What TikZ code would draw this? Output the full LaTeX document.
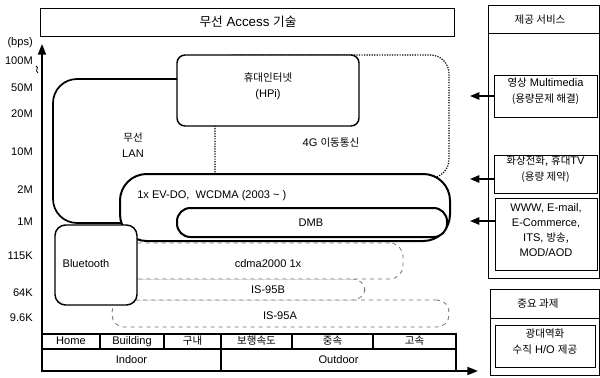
\documentclass[tikz,border=0pt]{standalone}
\usepackage{fontspec}
\setmainfont{Liberation Sans}
\newfontfamily\kr{Noto Sans CJK KR}[Scale=0.95]
\usetikzlibrary{arrows.meta,fit}
\begin{document}
\begin{tikzpicture}[x=0.75pt,y=-0.75pt,
  every node/.style={inner sep=0pt, font=\fontsize{8.3}{12}\selectfont, align=center},
  frame/.style={draw, line width=0.6pt},
  svcbox/.style={draw, line width=0.7pt},
  cell/.style={draw, line width=0.8pt},
  celltxt/.style={text height=6pt, text depth=1.5pt},
  bold/.style={draw, line width=1.1pt},
  heavy/.style={draw, line width=1.5pt},
  faint/.style={draw=black!55, line width=0.6pt, dashed},
  dotline/.style={draw, line width=0.9pt, densely dotted},
  arr/.style={-{Triangle[length=7pt,width=5.5pt]}, line width=1.2pt},
  axis/.style={-{Triangle[length=8pt,width=6pt]}, line width=1.3pt}]
\useasboundingbox (0,0) rectangle (600,378);

% top header
\node[frame, fit={(40,8)(454,36)}] (hdr) {};
\node[font=\fontsize{10}{12}\selectfont] (hdrtxt) at (248,22) {{\kr 무선} Access {\kr 기술}};

% axes
\coordinate (o) at (42,371);
\coordinate (ytop) at (42,44);
\coordinate (xend) at (478,371);
\draw[axis] (o) -- (ytop);
\draw[axis] (o) -- (xend);
\draw[line width=0.6pt] (36,66) .. controls (40,68) and (34,70) .. (38,73);

% axis labels
\node[anchor=east] (l0) at (33,43) {(bps)};
\node[anchor=east] (l1) at (33,61) {100M};
\node[anchor=east] (l2) at (33,88) {50M};
\node[anchor=east] (l3) at (33,114) {20M};
\node[anchor=east] (l4) at (33,152) {10M};
\node[anchor=east] (l5) at (33,190) {2M};
\node[anchor=east] (l6) at (33,222) {1M};
\node[anchor=east] (l7) at (33,256) {115K};
\node[anchor=east] (l8) at (33,293) {64K};
\node[anchor=east] (l9) at (33,318) {9.6K};

% wireless LAN (background)
\draw[line width=1.3pt, rounded corners=18pt] (177,79) -- (53,79) -- (53,223) -- (126,223);
\node (lan) at (133,145) {{\kr 무선}\\LAN};

% 4G dotted region
\draw[dotline, rounded corners=14pt] (215,180) -- (215,55) -- (449,55) -- (449,178) -- (400,178);
\node (g4) at (331,143) {4G {\kr 이동통신}};

% HPi
\node[bold, fill=white, rounded corners=6pt, fit={(177,55)(359,126)}] (hpi) {{\kr 휴대인터넷}\\(HPi)};

% EV-DO
\node[heavy, fill=white, rounded corners=20pt, fit={(120,174)(450,241)}] (evdo) {};
\node[anchor=west] (evdotxt) at (137,196) {1x EV-DO,\ \ WCDMA (2003 \textasciitilde\ )};

% DMB
\node[heavy, fill=white, rounded corners=10pt, fit={(177,208)(447,237)}] (dmb) {};
\node (dmbtxt) at (311,223) {DMB};

% lower technologies
\node[faint, rounded corners=9pt, fit={(112,300)(449,327)}] (is95a) {};
\node (is95atxt) at (280,316) {IS-95A};
\node[faint, fill=white, rounded corners=9pt, fit={(100,279)(365,300)}] (is95b) {};
\node (is95btxt) at (268,290) {IS-95B};
\node[faint, fill=white, rounded corners=10pt, fit={(100,243)(403,279)}] (cdma) {};
\node (cdmatxt) at (268,264) {cdma2000 1x};

% Bluetooth
\node[bold, fill=white, rounded corners=8pt, fit={(55,225)(137,305)}] (bt) {};
\node (bttxt) at (86,264) {Bluetooth};

% table
\node[cell, fit={(42,334)(100,349)}] (c1) {};
\node[cell, fit={(100,334)(164,349)}] (c2) {};
\node[cell, fit={(164,334)(221,349)}] (c3) {};
\node[cell, fit={(221,334)(292,349)}] (c4) {};
\node[cell, fit={(292,334)(373,349)}] (c5) {};
\node[cell, fit={(373,334)(456,349)}] (c6) {};
\node[cell, fit={(42,349)(221,371)}] (indoor) {};
\node[cell, fit={(221,349)(456,371)}] (outdoor) {};
\node[celltxt] (t1) at (c1.center) {Home};
\node[celltxt] (t2) at (c2.center) {Building};
\node[celltxt] (t3) at (c3.center) {\kr 구내};
\node[celltxt] (t4) at (c4.center) {\kr 보행속도};
\node[celltxt] (t5) at (c5.center) {\kr 중속};
\node[celltxt] (t6) at (c6.center) {\kr 고속};
\node[celltxt] (t7) at (indoor.center) {Indoor};
\node[celltxt] (t8) at (outdoor.center) {Outdoor};

% right panel: services
\node[frame, fit={(488,5)(599,278)}] (svcpanel) {};
\draw[line width=0.6pt] (488,33) -- (599,33);
\node (svchdr) at (540,20) {\kr 제공 서비스};
\node[svcbox, fit={(494,75)(597,117)}] (svc1) {{\kr 영상} Multimedia\\{\kr (용량문제 해결)}};
\node[svcbox, fit={(494,155)(597,193)}] (svc2) {{\kr 화상전화,} {\kr 휴대}TV\\{\kr (용량 제약)}};
\node[svcbox, fit={(495,198)(597,270)}, font=\fontsize{8.3}{11.3}\selectfont] (svc3) {WWW, E-mail,\\E-Commerce,\\ITS, {\kr 방송,}\\MOD/AOD};

\coordinate (a1) at (470,96);
\coordinate (a2) at (470,179);
\coordinate (a3) at (470,221);
\draw[arr] (svc1.west |- a1) -- (a1);
\draw[arr] (svc2.west |- a2) -- (a2);
\draw[arr] (svc3.west |- a3) -- (a3);

% right panel: key issues
\node[frame, fit={(490,289)(599,375)}] (keypanel) {};
\draw[line width=0.6pt] (490,318) -- (599,318);
\node (keyhdr) at (538,304) {\kr 중요 과제};
\node[svcbox, fit={(495,325)(595,367)}] (key1) {{\kr 광대역화}\\{\kr 수직} H/O {\kr 제공}};
\end{tikzpicture}
\end{document}
